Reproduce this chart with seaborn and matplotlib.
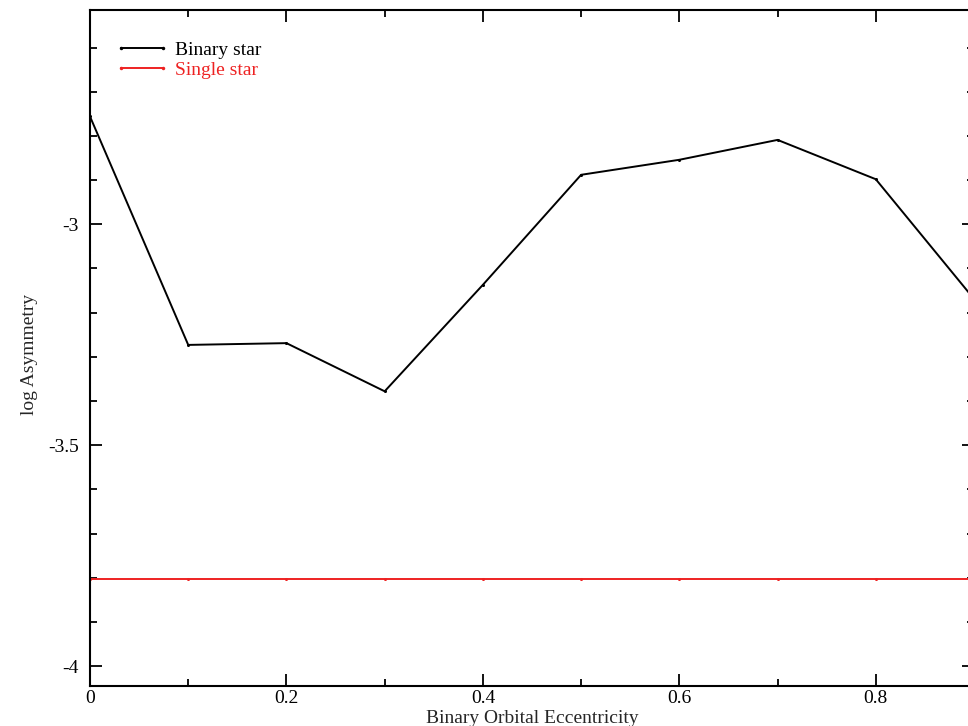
import numpy as np
import pandas as pd
import matplotlib
matplotlib.use("Agg")
import matplotlib.pyplot as plt
import seaborn as sns
from matplotlib.ticker import MultipleLocator

# ---------------- DATA ----------------
eccentricity = [0.0, 0.1, 0.2, 0.3, 0.4, 0.5, 0.6, 0.7, 0.8, 0.9]
binary_asym = [-2.756, -3.273, -3.269, -3.378, -3.137, -2.888, -2.854, -2.809, -2.898, -3.169]
single_asym = [-3.803] * 10

df = pd.DataFrame({
    "ecc": eccentricity * 2,
    "asym": binary_asym + single_asym,
    "series": ["Binary star"] * 10 + ["Single star"] * 10,
})

# ---------------- STYLE ----------------
sns.set_style("ticks")
plt.rcParams["font.family"] = ["Liberation Serif", "DejaVu Serif"]
FS = 14

fig = plt.figure(figsize=(9.68, 7.26), dpi=100)
# axes runs a bit past the right edge of the figure (cropped like the original)
ax = fig.add_axes([90 / 968, 40 / 726, 884 / 968, 676 / 726])

sns.lineplot(
    data=df, x="ecc", y="asym", hue="series",
    palette={"Binary star": "black", "Single star": "#ee2222"},
    marker="o", markersize=2.2, markeredgewidth=0, linewidth=1.4,
    ax=ax, legend=True,
)

ax.set_xlim(0, 0.9)
ax.set_ylim(-4.045, -2.515)

ax.xaxis.set_major_locator(MultipleLocator(0.2))
ax.xaxis.set_minor_locator(MultipleLocator(0.1))
ax.yaxis.set_major_locator(MultipleLocator(0.5))
ax.yaxis.set_minor_locator(MultipleLocator(0.1))
ax.xaxis.set_major_formatter(lambda v, p: "0" if abs(v) < 1e-9 else f"{v:g}")
ax.yaxis.set_major_formatter(lambda v, p: f"{v:g}")

ax.tick_params(which="both", direction="in", top=True, right=True, width=1.3,
               colors="black", labelsize=FS)
ax.tick_params(which="major", length=8.5)
ax.tick_params(which="minor", length=5)
ax.tick_params(axis="x", which="major", pad=3)
ax.tick_params(axis="y", which="major", pad=8)
for s in ax.spines.values():
    s.set_linewidth(1.5)
    s.set_color("black")

ax.set_xlabel("Binary Orbital Eccentricity", fontsize=FS, labelpad=0)
ax.set_ylabel("log Asymmetry", fontsize=FS)
ax.xaxis.set_label_coords(0.5, -0.036)
ax.yaxis.set_label_coords(-0.059, 0.49)

leg = ax.legend(loc="upper left", bbox_to_anchor=(0.009, 0.98), frameon=False,
                fontsize=FS, numpoints=2, handlelength=2.75, handletextpad=0.3,
                labelspacing=0.12, labelcolor="linecolor")
for line in leg.get_lines():
    line.set_markersize(2.5)

fig.savefig("out.png", dpi=100)
